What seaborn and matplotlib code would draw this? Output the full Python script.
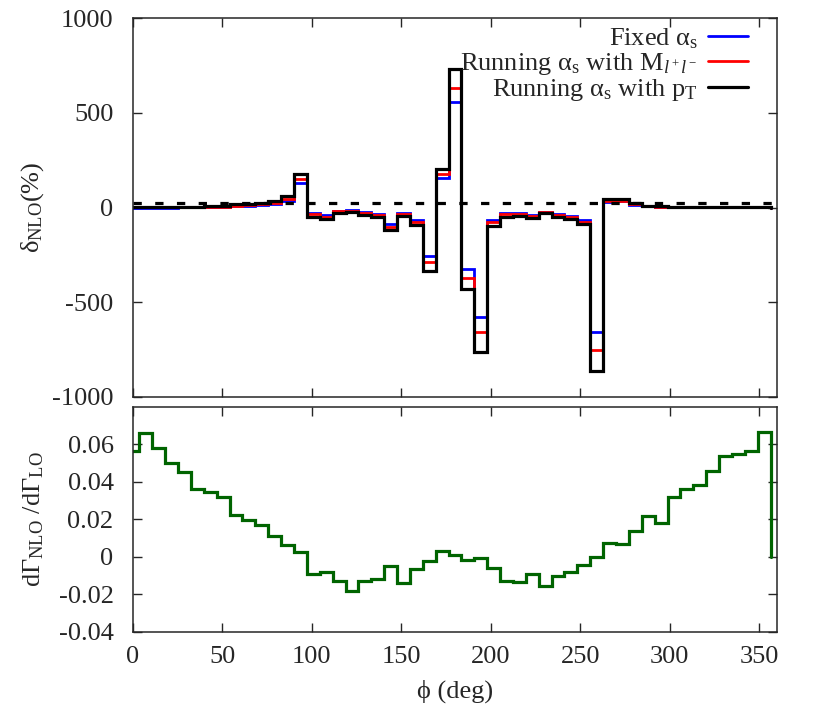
import numpy as np
import pandas as pd
import seaborn as sns
import matplotlib
matplotlib.use("Agg")
import matplotlib.pyplot as plt

# bin centres in phi (deg), bin width 7.2
phi = np.arange(50) * 7.2
half_bin = 3.6

# delta_NLO (%) per bin
delta_fixed = [0, 0, 0, 0, 1, 1, 2, 4, 6, 9,
               14, 21, 36, 131, -28, -40, -19, -15, -26, -34,
               -87, -30, -68, -254, 157, 560, -326, -580, -68, -30,
               -30, -40, -23, -35, -45, -66, -659, 31, 32, 15,
               7, 3, 1, 1, 1, 1, 1, 1, 1, 1]
delta_run_mll = [1, 1, 1, 1, 1, 2, 3, 5, 8, 11,
                 16, 24, 43, 149, -36, -48, -21, -17, -29, -37,
                 -101, -33, -78, -289, 178, 630, -370, -659, -77, -33,
                 -32, -46, -25, -40, -52, -75, -752, 36, 36, 17,
                 8, 4, 2, 2, 2, 2, 2, 2, 2, 2]
delta_run_pt = [3, 3, 3, 3, 4, 4, 6, 10, 17, 20,
                25, 33, 61, 175, -52, -62, -28, -22, -40, -48,
                -119, -43, -92, -333, 203, 731, -432, -761, -96, -48,
                -43, -54, -31, -48, -62, -87, -866, 45, 45, 22,
                10, 6, 3, 3, 3, 3, 3, 3, 3, 3]
delta_total = 23

# dGamma_NLO / dGamma_LO per bin
ratio = [0.0564, 0.0661, 0.0578, 0.0498, 0.0450, 0.0362, 0.0344, 0.0316, 0.0223, 0.0197,
         0.0167, 0.0108, 0.0064, 0.0023, -0.0092, -0.0080, -0.0131, -0.0183, -0.0131, -0.0119,
         -0.0052, -0.0140, -0.0064, -0.0021, 0.0028, 0.0011, -0.0016, -0.0007, -0.0060, -0.0131,
         -0.0137, -0.0092, -0.0158, -0.0105, -0.0081, -0.0046, -0.0003, 0.0073, 0.0068, 0.0135,
         0.0218, 0.0182, 0.0318, 0.0362, 0.0383, 0.0459, 0.0539, 0.0548, 0.0564, 0.0666]

sns.set_style("ticks")
plt.rcParams['font.family'] = ['Liberation Serif', 'DejaVu Serif']
plt.rcParams['mathtext.fontset'] = 'custom'
plt.rcParams['mathtext.rm'] = 'Liberation Serif'
plt.rcParams['mathtext.it'] = 'Liberation Serif:italic'
plt.rcParams['font.size'] = 19
plt.rcParams['axes.linewidth'] = 1.1
plt.rcParams['axes.unicode_minus'] = False
plt.rcParams['lines.solid_joinstyle'] = 'miter'


def step_hist(ax, vals, color, lw, label=None):
    edges = np.append(phi - half_bin, phi[-1] + half_bin)
    x = np.append(edges, edges[-1])
    y = np.append(vals, [vals[-1], 0])
    df = pd.DataFrame({'phi': x, 'val': y})
    sns.lineplot(data=df, x='phi', y='val', drawstyle='steps-post', color=color,
                 lw=lw, ax=ax, estimator=None, sort=False, label=label, legend=False)


fig = plt.figure(figsize=(8.3, 7.27), dpi=100)
ax1 = fig.add_axes([0.1602, 0.4543, 0.776, 0.5205])
ax2 = fig.add_axes([0.1602, 0.1311, 0.776, 0.3095])

# top panel
step_hist(ax1, delta_fixed, '#0000ff', 2.0, r'Fixed α$_\mathrm{s}$')
step_hist(ax1, delta_run_mll, '#ff0000', 2.0, r'Running α$_\mathrm{s}$ with M$_{l^+l^-}$')
step_hist(ax1, delta_run_pt, 'black', 2.3, r'Running α$_\mathrm{s}$ with p$_\mathrm{T}$')
ax1.axhline(delta_total, color='black', lw=2.3, ls=(0, (2.6, 4.2)))

ax1.set_xlim(0, 360)
ax1.set_ylim(-1000, 1000)
ax1.set_xticks(range(0, 360, 50))
ax1.set_yticks([-1000, -500, 0, 500, 1000])
ax1.tick_params(labelbottom=False)
ax1.set_xlabel('')
ax1.set_ylabel(r'δ$_\mathrm{NLO}$(%)')
ax1.yaxis.set_label_coords(-0.135, 0.5)

ax1.legend(loc='upper right', bbox_to_anchor=(0.955, 0.978), frameon=False,
           markerfirst=False, handlelength=1.5, handletextpad=0.4,
           labelspacing=0.0, borderpad=0, borderaxespad=0)

# bottom panel
step_hist(ax2, ratio, '#006400', 2.3)
ax2.set_xlim(0, 360)
ax2.set_ylim(-0.04, 0.08)
ax2.set_xticks(range(0, 360, 50))
ax2.set_yticks([-0.04, -0.02, 0, 0.02, 0.04, 0.06])
ax2.set_yticklabels(['-0.04', '-0.02', '0', '0.02', '0.04', '0.06'])
ax2.set_xlabel('ϕ (deg)')
ax2.set_ylabel(r'dΓ$_\mathrm{NLO}$ /dΓ$_\mathrm{LO}$')
ax2.yaxis.set_label_coords(-0.135, 0.5)
ax2.xaxis.set_label_coords(0.5, -0.215)

for ax in (ax1, ax2):
    ax.tick_params(direction='in', length=6.5, width=1, top=True, right=True,
                   labelsize=19)
    ax.tick_params(axis='y', pad=14)
    ax.tick_params(axis='x', pad=10)

fig.savefig('out.png', dpi=100)
